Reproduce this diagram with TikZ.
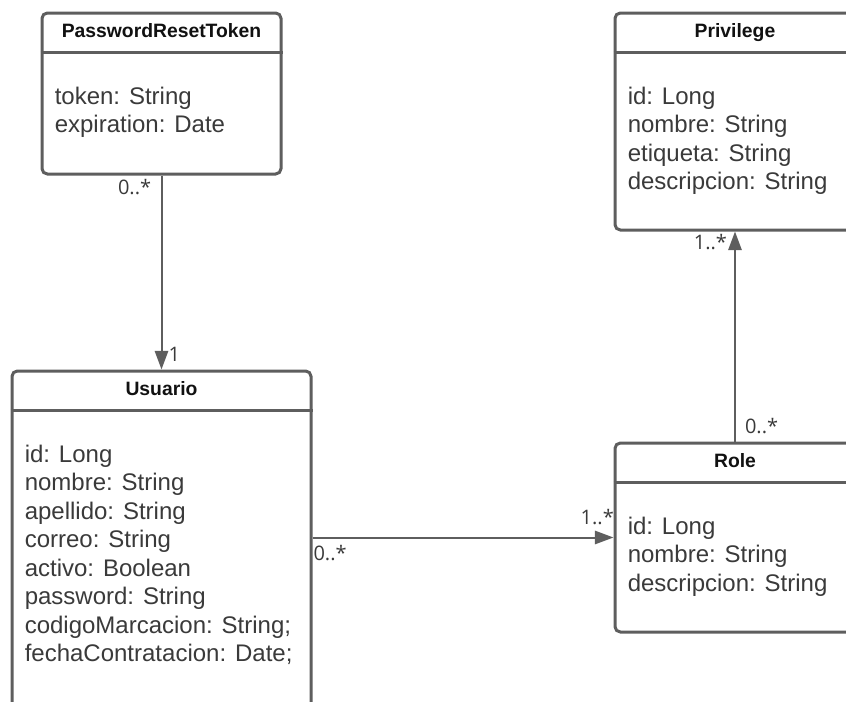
\documentclass[tikz,border=0pt]{standalone}
\usepackage{fontspec}
\setmainfont{Liberation Sans}
\newfontfamily\multfont{Open Sans}
\usetikzlibrary{positioning,arrows.meta}
\definecolor{BorderGray}{RGB}{94,94,94}
\definecolor{AttrGray}{RGB}{58,58,58}
\definecolor{TitleBlack}{RGB}{17,17,17}

\begin{document}
\begin{tikzpicture}[
  x=0.75pt, y=-0.75pt,
  classbox/.style={draw=BorderGray, line width=2.25pt, rounded corners=4pt, fill=white, anchor=north west},
  classtitle/.style={font=\bfseries\fontsize{14.5}{17}\selectfont, text=TitleBlack, anchor=base, inner sep=0pt},
  attrs/.style={font=\fontsize{18}{21.4}\selectfont, text=AttrGray, align=left, anchor=north west, inner sep=0pt},
  divider/.style={draw=BorderGray, line width=2.25pt},
  assoc/.style={-{Triangle[length=14pt, width=10pt]}, line width=1.5pt, color=BorderGray},
  mult/.style={font=\multfont\fontsize{15}{17}\selectfont, text=AttrGray, inner sep=0pt}
]
\useasboundingbox (0,0) rectangle (846,701);
\clip (0,0) rectangle (846,701);

% Class boxes
\node[classbox, minimum width=179.25pt, minimum height=120.75pt] (prt) at (40.5,11.5) {};
\node[classbox, minimum width=180pt, minimum height=162.75pt] (privilege) at (613.5,11.5) {};
\node[classbox, minimum width=224.25pt, minimum height=270pt] (usuario) at (10.5,369.5) {};
\node[classbox, minimum width=180pt, minimum height=141.75pt] (role) at (613.5,441.5) {};

% Header dividers
\foreach \cls in {prt,privilege,usuario,role}
  \draw[divider] ([yshift=-31pt]\cls.north west) -- ([yshift=-31pt]\cls.north east);

% Class names
\node[classtitle] (prt-name) at ([yshift=-19.5pt]prt.north) {PasswordResetToken};
\node[classtitle] (privilege-name) at ([yshift=-19.5pt]privilege.north) {Privilege};
\node[classtitle] (usuario-name) at ([yshift=-19.5pt]usuario.north) {Usuario};
\node[classtitle] (role-name) at ([yshift=-19.5pt]role.north) {Role};

% Attributes
\node[attrs] (prt-attrs) at ([xshift=10.5pt, yshift=-56.3pt]prt.north west) {token: String\\expiration: Date};
\node[attrs] (privilege-attrs) at ([xshift=10.5pt, yshift=-56.3pt]privilege.north west) {id: Long\\nombre: String\\etiqueta: String\\descripcion: String};
\node[attrs] (usuario-attrs) at ([xshift=10.5pt, yshift=-56.3pt]usuario.north west) {id: Long\\nombre: String\\apellido: String\\correo: String\\activo: Boolean\\password: String\\codigoMarcacion: String;\\fechaContratacion: Date;};
\node[attrs] (role-attrs) at ([xshift=10.5pt, yshift=-56.3pt]role.north west) {id: Long\\nombre: String\\descripcion: String};

% Associations
\draw[assoc] (prt) -- (usuario)
  node[mult, pos=0, anchor=north east, xshift=-7pt, yshift=-2pt] (m1) {0..*}
  node[mult, pos=1, anchor=south west, xshift=4.5pt, yshift=5.5pt] (m2) {1};
\draw[assoc] (usuario.east |- role.west) -- (role.west)
  node[mult, pos=0, anchor=north west, yshift=-5pt] (m3) {0..*}
  node[mult, pos=1, anchor=south east, xshift=1pt, yshift=9pt] (m4) {1..*};
\draw[assoc] (role) -- (privilege)
  node[mult, pos=0, anchor=south west, xshift=6.75pt, yshift=5pt] (m5) {0..*}
  node[mult, pos=1, anchor=north east, xshift=-5.25pt, yshift=-1pt] (m6) {1..*};
\end{tikzpicture}
\end{document}
